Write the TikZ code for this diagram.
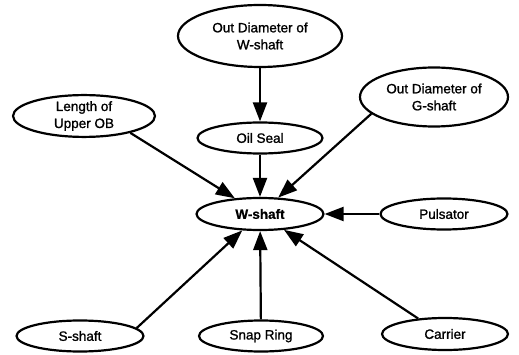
\documentclass[tikz,border=0pt]{standalone}
\usepackage{fontspec}
\setmainfont{Liberation Sans}
\newfontfamily\labelfont{Liberation Sans}[FakeBold=1.2]
\newfontfamily\hubfont{Liberation Sans Bold}[FakeBold=0.8]
\usetikzlibrary{shapes.geometric,arrows.meta}
\begin{document}
\begin{tikzpicture}[x=1pt,y=-1pt,
  factor/.style={ellipse,draw,line width=2.2pt,inner sep=0pt,align=center,
    font=\labelfont\fontsize{13.5}{17}\selectfont},
  link/.style={line width=2.2pt,-{Triangle[length=19pt,width=14pt]}}]
\useasboundingbox (0,0) rectangle (519,355);
% outer factors
\node[factor,minimum width=164pt,minimum height=62pt] (odw) at (260,36) {Out Diameter of\\W-shaft};
\node[factor,minimum width=142pt,minimum height=41pt] (ob)  at (84,116) {Length of\\Upper OB};
\node[factor,minimum width=125pt,minimum height=31pt] (seal) at (260,138) {Oil Seal};
\node[factor,minimum width=148pt,minimum height=59pt] (odg) at (434,97) {Out Diameter of\\G-shaft};
\node[factor,minimum width=127pt,minimum height=32pt,font=\hubfont\fontsize{13.5}{17}\selectfont] (w) at (260,214) {W-shaft};
\node[factor,minimum width=127pt,minimum height=31pt] (puls) at (444,214) {Pulsator};
\node[factor,minimum width=127pt,minimum height=31pt] (s)    at (80,336) {S-shaft};
\node[factor,minimum width=124pt,minimum height=31pt] (snap) at (261,336) {Snap Ring};
\node[factor,minimum width=126pt,minimum height=32pt] (car)  at (445,334) {Carrier};
% influences on the W-shaft
\draw[link] (odw) -- (seal);
\draw[link] (seal) -- (w);
\draw[link] (ob.-20) -- (w);
\draw[link] (odg.195) -- (w);
\draw[link] (puls) -- (w);
\draw[link] (s.8) -- (w);
\draw[link] (snap) -- (w);
\draw[link] (car.150) -- (w);
\end{tikzpicture}
\end{document}
